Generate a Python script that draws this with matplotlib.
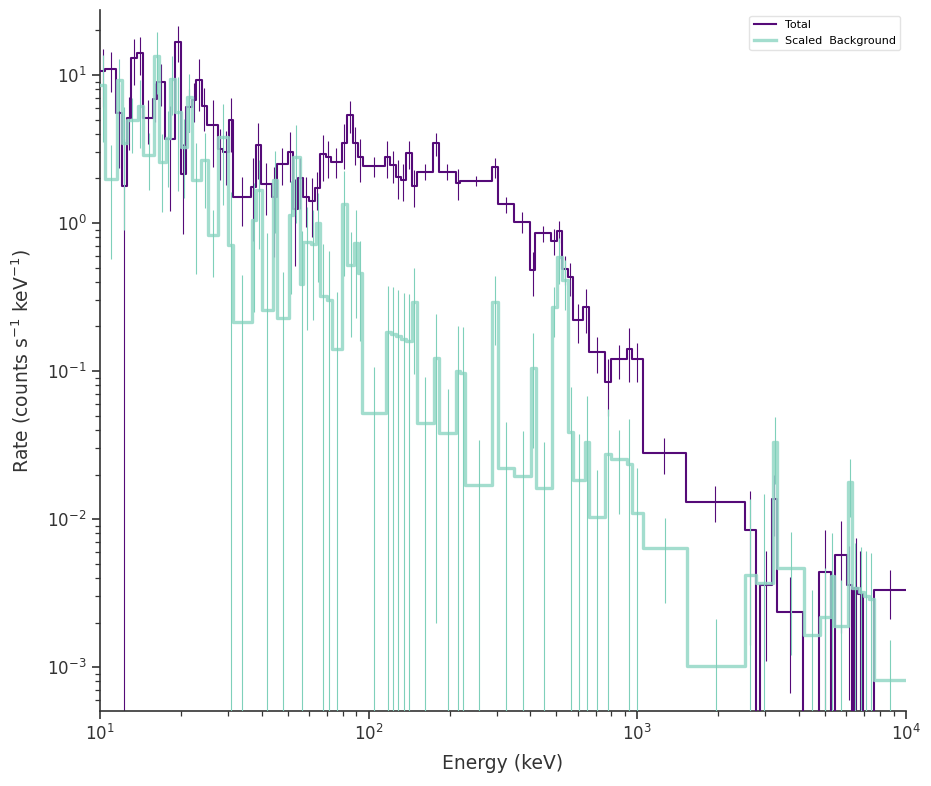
import numpy as np
import matplotlib.pyplot as plt

# ---------------- data ----------------
# total (observed) spectrum: bin edges in keV, rate and 1-sigma error
tot_edges = [10.0, 10.44, 11.47, 12.04, 12.63, 13.04, 13.77, 14.49, 15.79, 16.34,
             17.46, 19.02, 20.02, 20.90, 21.94, 22.76, 23.90, 25.08, 27.56, 28.62,
             30.21, 31.35, 36.48, 38.07, 39.64, 43.56, 45.47, 50.22, 52.15, 54.45,
             56.81, 59.97, 63.13, 65.91, 69.21, 72.24, 79.37, 82.85, 87.22, 91.04,
             95.0, 115.0, 120.1, 126.4, 131.6, 137.7, 144.6, 151.7, 174.0, 182.7,
             210.9, 218.8, 287.1, 302.2, 347.5, 400.2, 417.8, 477.1, 501.0, 523.0,
             553.4, 574.7, 629.3, 660.8, 758, 796, 913, 955, 1050, 1518,
             2516, 2765, 2873, 3162, 3302, 4147, 4745, 5243, 5466, 6015,
             6281, 6406, 6629, 6901, 7601, 10000]
tot_rate = [10.6, 11.0, 5.56, 1.78, 5.1, 13.1, 14.0, 5.1, 6.85, 9.0,
            3.7, 16.8, 2.14, 6.1, 6.78, 9.25, 6.2, 4.6, 3.15, 3.0,
            5.0, 1.5, 1.76, 3.37, 1.83, 1.49, 2.5, 3.0, 1.24, 2.0,
            1.49, 1.41, 1.72, 2.92, 2.8, 2.6, 3.5, 5.37, 3.45, 2.78,
            2.42, 2.8, 2.47, 2.05, 1.95, 2.96, 1.78, 2.22, 3.45, 2.22,
            1.86, 1.93, 2.38, 1.34, 1.02, 0.48, 0.85, 0.76, 0.88, 0.49,
            0.43, 0.22, 0.27, 0.134, 0.085, 0.12, 0.14, 0.12, 0.0278, 0.0131,
            0.0084, 0, 0.0036, 0.0137, 0.00237, 0, 0.0044, 0, 0.0057, 0.0036,
            0, 0.0034, 0.0031, 0, 0.0033]
tot_err = [4.5, 3.3, 3.2, 1.9, 2.0, 4.5, 4.0, 1.7, 2.0, 2.8,
           2.5, 4.5, 1.3, 2.0, 2.0, 3.5, 2.0, 2.2, 1.2, 1.2,
           2.0, 0.55, 1.0, 1.4, 0.7, 0.9, 0.7, 1.1, 0.73, 0.75,
           0.55, 0.6, 0.5, 1.0, 0.8, 0.6, 1.2, 1.3, 1.0, 0.9,
           0.36, 0.8, 0.6, 0.6, 0.55, 0.65, 0.5, 0.28, 0.6, 0.28,
           0.44, 0.15, 0.35, 0.17, 0.16, 0.16, 0.11, 0.15, 0.15, 0.11,
           0.11, 0.065, 0.09, 0.037, 0.035, 0.031, 0.055, 0.035, 0.0077, 0.0036,
           0.007, 0, 0.0025, 0.006, 0.0017, 0, 0.004, 0, 0.004, 0.003,
           0, 0.004, 0.003, 0, 0.0012]

# scaled background spectrum
bkg_edges = [10.0, 10.44, 11.60, 12.04, 12.63, 13.80, 14.49, 15.91, 16.58, 17.61,
             18.22, 19.02, 20.02, 21.03, 21.94, 23.76, 25.30, 27.56, 30.03, 31.35,
             36.70, 38.07, 39.98, 43.94, 45.47, 50.65, 52.15, 55.51, 57.10, 60.84,
             63.68, 65.91, 69.81, 72.86, 79.37, 83.27, 88.19, 91.04, 94.68, 115.7,
             121.1, 126.4, 131.9, 138.3, 144.6, 150.9, 174.6, 183.2, 211.4, 218.8,
             228.4, 288.5, 303.7, 348.4, 401.9, 418.4, 480.0, 501.0, 523.0, 553.4,
             577.7, 638.6, 662.4, 758, 797.9, 913, 952.6, 1052, 1527, 2516,
             2765, 3187, 3317, 4172, 4786, 5243, 5411, 6067, 6281, 6663,
             6953, 7256, 7601, 10000]
bkg_rate = [8.55, 1.97, 9.25, 3.5, 4.95, 6.2, 2.88, 13.4, 2.58, 3.74,
            9.35, 5.65, 3.28, 7.1, 1.95, 2.66, 0.83, 3.83, 0.71, 0.215,
            1.05, 1.67, 0.26, 1.95, 0.227, 1.13, 2.8, 0.39, 0.74, 0.72,
            1.0, 0.32, 0.30, 0.14, 1.34, 0.52, 0.73, 0.46, 0.052, 0.185,
            0.178, 0.172, 0.165, 0.16, 0.295, 0.0447, 0.122, 0.0379, 0.1, 0.097,
            0.017, 0.295, 0.0222, 0.0194, 0.105, 0.0163, 0.27, 0.59, 0.41, 0.0386,
            0.0184, 0.0333, 0.0104, 0.0277, 0.0254, 0.0236, 0.011, 0.0064, 0.00101, 0.0042,
            0.0037, 0.0333, 0.0047, 0.00164, 0.00218, 0.0041, 0.0019, 0.0178, 0.0034, 0.0032,
            0.0030, 0.0029, 0.00082]
bkg_err = [5.0, 1.4, 3.5, 2.6, 2.0, 3.0, 1.2, 6.0, 1.4, 2.0,
           4.0, 4.0, 1.8, 3.0, 1.5, 1.4, 0.4, 2.5, 0.9, 0.23,
           0.8, 1.0, 0.6, 1.1, 0.24, 0.8, 1.8, 0.5, 0.55, 0.5,
           0.6, 0.4, 0.35, 0.2, 0.9, 0.35, 0.5, 0.3, 0.055, 0.19,
           0.19, 0.18, 0.17, 0.17, 0.2, 0.047, 0.12, 0.038, 0.1, 0.1,
           0.017, 0.145, 0.023, 0.02, 0.075, 0.017, 0.1, 0.2, 0.15, 0.04,
           0.019, 0.035, 0.011, 0.028, 0.0145, 0.024, 0.011, 0.0037, 0.0011, 0.0095,
           0.011, 0.016, 0.0035, 0.0017, 0.0025, 0.004, 0.002, 0.0075, 0.0035, 0.0033,
           0.0031, 0.003, 0.0007]

c_tot = '#550a78'
c_bkg = '#93d8c6'
c_bkg_err = '#7fd0ba'
txt = '#333333'


def centers(edges):
    e = np.asarray(edges, dtype=float)
    return np.sqrt(e[:-1] * e[1:])


def steps(edges, vals):
    v = np.asarray(vals, dtype=float)
    return np.asarray(edges, dtype=float), np.append(v, v[-1])


# ---------------- figure ----------------
fig = plt.figure(figsize=(9.31, 7.86), dpi=100)
ax = fig.add_axes([0.1074, 0.0954, 0.8657, 0.8919])
ax.set_xscale('log')
ax.set_yscale('log', nonpositive='clip')

# total
ax.errorbar(centers(tot_edges), tot_rate, yerr=tot_err, fmt='none',
            ecolor=c_tot, elinewidth=0.8, capsize=0, zorder=2)
x, y = steps(tot_edges, tot_rate)
ax.step(x, y, where='post', color=c_tot, lw=1.5, label='Total', zorder=3)

# background
x, y = steps(bkg_edges, bkg_rate)
ax.step(x, y, where='post', color=c_bkg, lw=2.4, alpha=0.85,
        label='Scaled  Background', zorder=4)
ax.errorbar(centers(bkg_edges), bkg_rate, yerr=bkg_err, fmt='none',
            ecolor=c_bkg_err, elinewidth=0.8, capsize=0, zorder=4)

ax.set_xlim(10, 1e4)
ax.set_ylim(5.05e-4, 27.5)

ax.set_xlabel('Energy (keV)', fontsize=13.5, color=txt, labelpad=7)
ax.set_ylabel('Rate (counts s$^{-1}$ keV$^{-1}$)', fontsize=13.5, color=txt, labelpad=10)

for s in ['top', 'right']:
    ax.spines[s].set_visible(False)
for s in ['left', 'bottom']:
    ax.spines[s].set_color(txt)
    ax.spines[s].set_linewidth(1.2)

ax.tick_params(which='major', direction='out', length=6, width=1.2,
               color=txt, labelcolor=txt, labelsize=12)
ax.tick_params(which='minor', direction='out', length=3.5, width=0.9, color=txt)

leg = ax.legend(loc='upper right', fontsize=8, fancybox=True, framealpha=0.8)
leg.get_frame().set_edgecolor('#dddddd')

fig.savefig('out.png', dpi=100)
